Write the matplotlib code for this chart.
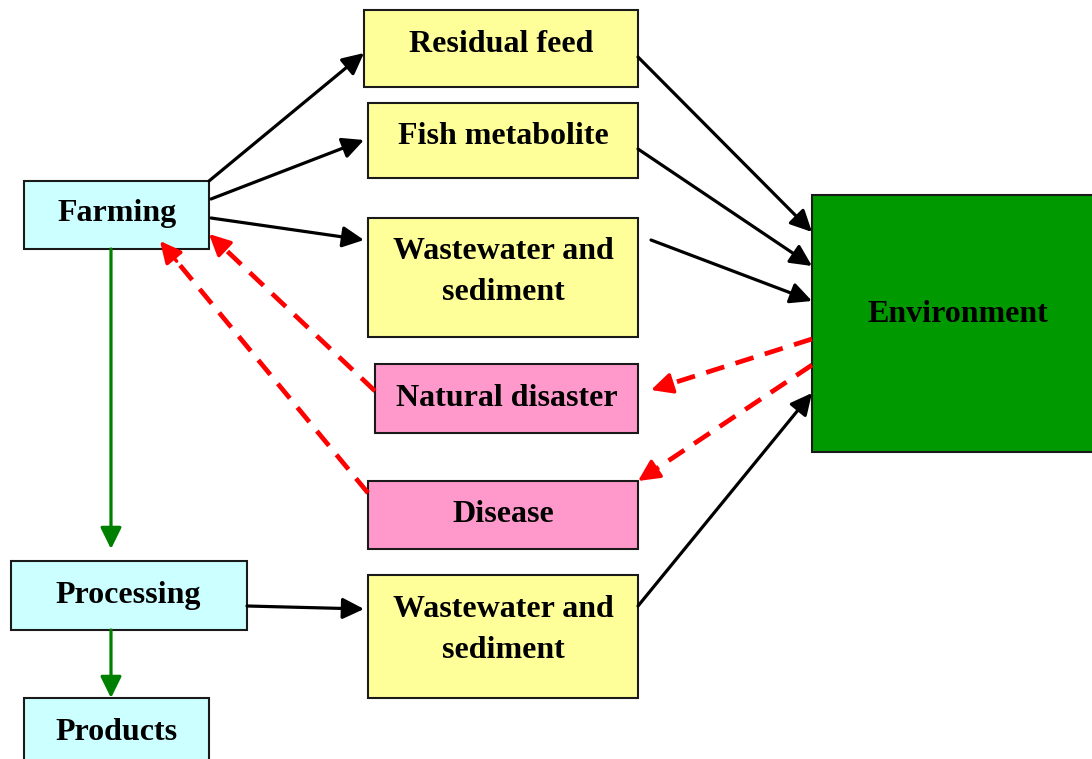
import matplotlib.pyplot as plt
from matplotlib.patches import Rectangle, FancyArrowPatch

# caixas: rotulo, (x0, y0, x1, y1) em pixels, cor, posicao do texto
rotulos = ["Farming", "Processing", "Products", "Residual feed", "Fish metabolite",
           "Wastewater and\nsediment", "Natural disaster", "Disease",
           "Wastewater and\nsediment", "Environment"]
caixas = [(24, 181, 209, 249), (11, 561, 247, 630), (24, 698, 209, 762),
          (364, 10, 638, 87), (368, 103, 638, 178), (368, 218, 638, 337),
          (375, 364, 638, 433), (368, 481, 638, 549), (368, 575, 638, 698),
          (812, 195, 1095, 452)]
cores = ["#CCFFFF", "#CCFFFF", "#CCFFFF", "#FFFF99", "#FFFF99", "#FFFF99",
         "#FF99CC", "#FF99CC", "#FFFF99", "#009900"]
pos_texto = [(117, 214), (128, 596), (117, 732), (501, 44), (503, 137),
             (503, 272), (507, 398), (503, 515), (503, 630), (958, 314)]

# setas pretas (fluxo de material)
setas_pretas = [((209, 181), (364, 53)), ((211, 199), (364, 140)),
                ((211, 218), (364, 240)), ((638, 57), (812, 232)),
                ((638, 149), (812, 266)), ((651, 240), (812, 301)),
                ((638, 606), (812, 393)), ((247, 606), (364, 609))]
# setas vermelhas tracejadas (riscos)
setas_vermelhas = [((812, 339), (651, 390)), ((812, 365), (638, 481)),
                   ((375, 391), (209, 234)), ((368, 493), (160, 241))]
# setas verdes (producao)
setas_verdes = [((111, 249), (111, 549)), ((111, 630), (111, 698))]

fig = plt.figure(figsize=(10.92, 7.59), dpi=100)
ax = fig.add_axes([0, 0, 1, 1])
ax.set_xlim(0, 1092)
ax.set_ylim(759, 0)
ax.axis("off")

for rotulo, (x0, y0, x1, y1), cor, (tx, ty) in zip(rotulos, caixas, cores, pos_texto):
    ax.add_patch(Rectangle((x0, y0), x1 - x0, y1 - y0, facecolor=cor,
                           edgecolor="#1a1a1a", linewidth=1.5, zorder=1))
    ax.text(tx, ty, rotulo, ha="center", va="center", family="Liberation Serif",
            fontweight="bold", fontsize=23, linespacing=1.55, zorder=5)


def seta(ini, fim, cor, largura):
    ax.add_patch(FancyArrowPatch(ini, fim, arrowstyle="-|>,head_length=0.65,head_width=0.32",
                                 mutation_scale=20, color=cor, linewidth=largura,
                                 shrinkA=0, shrinkB=0, zorder=3))


for ini, fim in setas_pretas:
    seta(ini, fim, "black", 2.3)

for ini, fim in setas_verdes:
    seta(ini, fim, "#008000", 2.3)

for (x0, y0), (x1, y1) in setas_vermelhas:
    # linha tracejada e ponta solida
    xm = x1 + (x0 - x1) * 0.08
    ym = y1 + (y0 - y1) * 0.08
    ax.plot([x0, xm], [y0, ym], color="#FF0000", linewidth=3.4,
            linestyle=(0, (4.0, 2.5)), solid_capstyle="butt", zorder=3)
    seta((xm, ym), (x1, y1), "#FF0000", 2.5)

fig.savefig("out.png", dpi=100)
